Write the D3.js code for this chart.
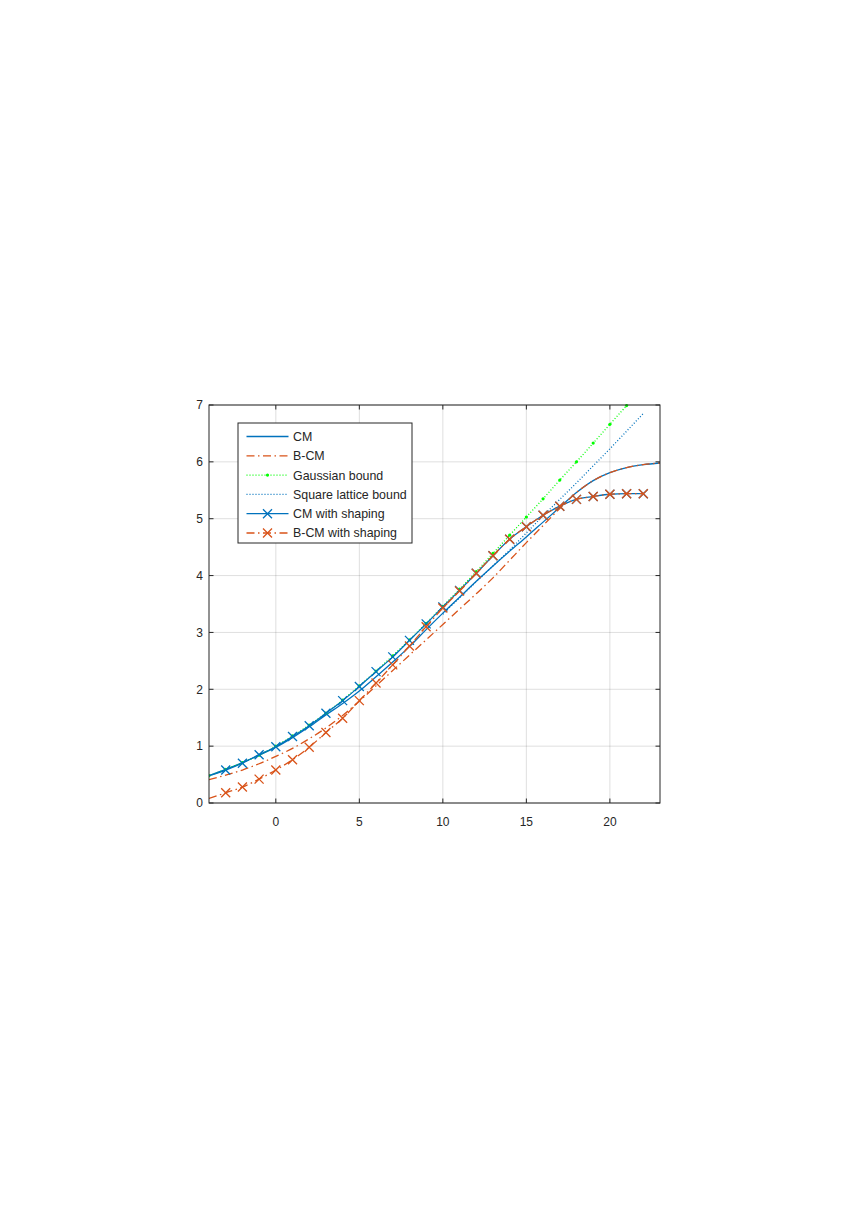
<!DOCTYPE html>
<html>
<head>
<meta charset="utf-8">
<script src="https://cdn.jsdelivr.net/npm/d3@7"></script>
<style>
  body { margin: 0; background: #fff; }
  svg text { font-family: "Liberation Sans", Arial, sans-serif; fill: #262626; }
</style>
</head>
<body>
<div id="chart"></div>
<script>
// SNR grid (dB)
var snr = [-4, -3, -2, -1, 0, 1, 2, 3, 4, 5, 6, 7, 8, 9, 10, 11, 12, 13, 14, 15, 16, 17, 18, 19, 20, 21, 22, 23];

// rates (bits), one value per snr step from the start index
var cm        = [0.48, 0.59, 0.71, 0.84, 0.98, 1.15, 1.34, 1.55, 1.75, 1.97, 2.22, 2.48, 2.75, 3.05,
                 3.34, 3.62, 3.90, 4.17, 4.43, 4.68, 4.94, 5.20, 5.46, 5.67, 5.81, 5.90, 5.95, 5.98];
var bcm       = [0.41, 0.49, 0.58, 0.69, 0.82, 0.96, 1.13, 1.32, 1.54, 1.79, 2.06, 2.33, 2.60, 2.87,
                 3.14, 3.41, 3.68, 3.96, 4.27, 4.58, 4.88, 5.18, 5.46, 5.67, 5.81, 5.90, 5.95, 5.98];
var gauss     = [0.48, 0.59, 0.71, 0.84, 1.00, 1.18, 1.37, 1.58, 1.81, 2.06, 2.32, 2.59, 2.87, 3.16,
                 3.46, 3.76, 4.07, 4.39, 4.71, 5.03, 5.35, 5.68, 6.00, 6.33, 6.66, 6.99];
var square    = [3.32, 3.61, 3.89, 4.17, 4.45, 4.75, 5.05, 5.34, 5.63, 5.93, 6.23, 6.54, 6.85];
var cmShape   = [0.48, 0.58, 0.70, 0.85, 0.99, 1.17, 1.36, 1.58, 1.80, 2.05, 2.31, 2.57, 2.86, 3.15,
                 3.45, 3.74, 4.04, 4.35, 4.64, 4.86, 5.06, 5.22, 5.34, 5.39, 5.43, 5.44, 5.44];
var bcmShape  = [0.08, 0.18, 0.28, 0.42, 0.58, 0.76, 0.98, 1.24, 1.49, 1.80, 2.11, 2.43, 2.76, 3.10,
                 3.43, 3.73, 4.04, 4.35, 4.64, 4.86, 5.06, 5.22, 5.34, 5.39, 5.43, 5.44, 5.44];

var xTicks = [0, 5, 10, 15, 20];
var yTicks = [0, 1, 2, 3, 4, 5, 6, 7];

var blue   = '#0072bd',
    orange = '#d95319',
    green  = '#00ff00',
    axisC  = '#262626';

var series = [
  { name: 'CM',                   start: -4, values: cm,       color: blue,   dash: null,            marker: null },
  { name: 'B-CM',                 start: -4, values: bcm,      color: orange, dash: '8,3.5,1.5,3.5', marker: null },
  { name: 'Gaussian bound',       start: -4, values: gauss,    color: green,  dash: '1,2',           marker: 'dot' },
  { name: 'Square lattice bound', start: 10, values: square,   color: blue,   dash: '1,2',           marker: null },
  { name: 'CM with shaping',      start: -4, values: cmShape,  color: blue,   dash: null,            marker: 'x' },
  { name: 'B-CM with shaping',    start: -4, values: bcmShape, color: orange, dash: '8,3.5,1.5,3.5', marker: 'x' }
];

var W = 848, H = 1226,
    pL = 209, pR = 660, pT = 405, pB = 803;

var svg = d3.select('#chart')
  .append('svg')
  .attr('width', W)
  .attr('height', H);

svg.append('rect')
  .attr('width', W)
  .attr('height', H)
  .attr('fill', '#fff');

var x = d3.scaleLinear().domain([-4, 23]).range([pL, pR]);
var y = d3.scaleLinear().domain([0, 7]).range([pB, pT]);

// grid
var grid = svg.append('g').attr('class', 'grid');
grid.selectAll('line.gx')
  .data(xTicks)
  .enter().append('line')
  .attr('x1', function(d) { return x(d); })
  .attr('x2', function(d) { return x(d); })
  .attr('y1', pT)
  .attr('y2', pB)
  .attr('stroke', axisC)
  .attr('stroke-opacity', 0.15);
grid.selectAll('line.gy')
  .data(yTicks)
  .enter().append('line')
  .attr('x1', pL)
  .attr('x2', pR)
  .attr('y1', function(d) { return y(d); })
  .attr('y2', function(d) { return y(d); })
  .attr('stroke', axisC)
  .attr('stroke-opacity', 0.15);

svg.append('clipPath')
  .attr('id', 'plotclip')
  .append('rect')
  .attr('x', pL)
  .attr('y', pT - 1)
  .attr('width', pR - pL)
  .attr('height', pB - pT + 2);

var plot = svg.append('g').attr('clip-path', 'url(#plotclip)');

var line = d3.line()
  .curve(d3.curveMonotoneX)
  .x(function(d) { return x(d[0]); })
  .y(function(d) { return y(d[1]); });

var xMark = 'M-4.5,-4.5L4.5,4.5M-4.5,4.5L4.5,-4.5';

series.forEach(function(s) {
  var i0 = snr.indexOf(s.start);
  var pts = s.values.map(function(v, i) { return [snr[i0 + i], v]; });

  plot.append('path')
    .datum(pts)
    .attr('d', line)
    .attr('fill', 'none')
    .attr('stroke', s.color)
    .attr('stroke-width', 1.3)
    .attr('stroke-dasharray', s.dash);

  if (s.marker === 'x') {
    plot.selectAll(null)
      .data(pts.slice(1))
      .enter().append('path')
      .attr('d', xMark)
      .attr('transform', function(d) { return 'translate(' + x(d[0]) + ',' + y(d[1]) + ')'; })
      .attr('fill', 'none')
      .attr('stroke', s.color)
      .attr('stroke-width', 1.3);
  } else if (s.marker === 'dot') {
    plot.selectAll(null)
      .data(pts)
      .enter().append('circle')
      .attr('cx', function(d) { return x(d[0]); })
      .attr('cy', function(d) { return y(d[1]); })
      .attr('r', 1.6)
      .attr('fill', s.color);
  }
});

// axes box + inward ticks
var axes = svg.append('g').attr('class', 'axes');
axes.append('rect')
  .attr('x', pL)
  .attr('y', pT)
  .attr('width', pR - pL)
  .attr('height', pB - pT)
  .attr('fill', 'none')
  .attr('stroke', axisC)
  .attr('stroke-width', 1);

var tl = 4.5;
xTicks.forEach(function(t) {
  axes.append('line').attr('x1', x(t)).attr('x2', x(t)).attr('y1', pB).attr('y2', pB - tl).attr('stroke', axisC);
  axes.append('line').attr('x1', x(t)).attr('x2', x(t)).attr('y1', pT).attr('y2', pT + tl).attr('stroke', axisC);
  axes.append('text')
    .attr('x', x(t))
    .attr('y', 826)
    .attr('text-anchor', 'middle')
    .attr('font-size', 12)
    .text(t);
});
yTicks.forEach(function(t) {
  axes.append('line').attr('x1', pL).attr('x2', pL + tl).attr('y1', y(t)).attr('y2', y(t)).attr('stroke', axisC);
  axes.append('line').attr('x1', pR).attr('x2', pR - tl).attr('y1', y(t)).attr('y2', y(t)).attr('stroke', axisC);
  axes.append('text')
    .attr('x', 203)
    .attr('y', y(t) + 4.3)
    .attr('text-anchor', 'end')
    .attr('font-size', 12)
    .text(t);
});

// legend
var lg = svg.append('g').attr('class', 'legend');
lg.append('rect')
  .attr('x', 238)
  .attr('y', 423)
  .attr('width', 174)
  .attr('height', 120)
  .attr('fill', '#fff')
  .attr('stroke', axisC)
  .attr('stroke-width', 1);

series.forEach(function(s, i) {
  var ly = 436.5 + i * 19.3;
  lg.append('line')
    .attr('x1', 246.5)
    .attr('x2', 288.5)
    .attr('y1', ly)
    .attr('y2', ly)
    .attr('stroke', s.color)
    .attr('stroke-width', 1.3)
    .attr('stroke-dasharray', s.dash);
  if (s.marker === 'x') {
    lg.append('path')
      .attr('d', xMark)
      .attr('transform', 'translate(267.5,' + ly + ')')
      .attr('fill', 'none')
      .attr('stroke', s.color)
      .attr('stroke-width', 1.3);
  } else if (s.marker === 'dot') {
    lg.append('circle')
      .attr('cx', 267.5)
      .attr('cy', ly)
      .attr('r', 1.6)
      .attr('fill', s.color);
  }
  lg.append('text')
    .attr('x', 293)
    .attr('y', ly + 4.4)
    .attr('font-size', 12.4)
    .text(s.name);
});
</script>
</body>
</html>
